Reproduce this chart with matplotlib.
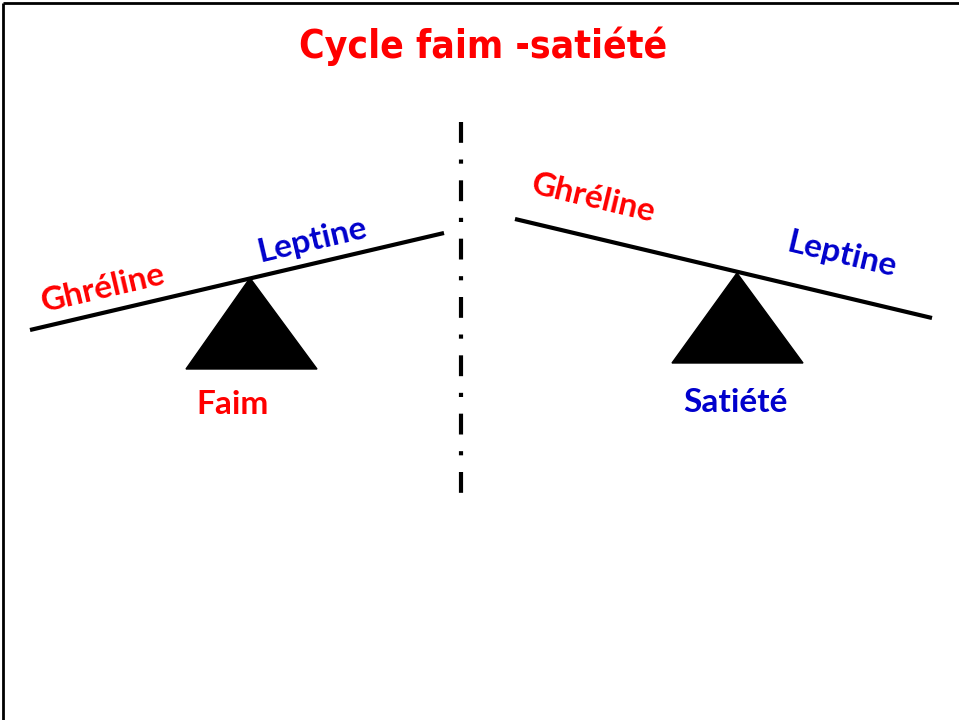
import matplotlib.pyplot as plt
import matplotlib.patches as mpatches

plt.rcParams['lines.scale_dashes'] = False

title = 'Cycle faim -satiété'
hormones = ['Ghréline', 'Leptine']
hormone_colors = ['#ff0000', '#0000cc']
states = ['Faim', 'Satiété']
state_colors = ['#ff0000', '#0000cc']

fig = plt.figure(figsize=(9.59, 7.2), dpi=100)
ax = fig.add_axes([0, 0, 1, 1])
ax.set_xlim(0, 959)
ax.set_ylim(720, 0)
ax.axis('off')

# cadre (haut + gauche seulement visibles)
ax.plot([3, 959], [3, 3], color='black', lw=2, solid_capstyle='butt')
ax.plot([3, 3], [3, 720], color='black', lw=2, solid_capstyle='butt')

ax.text(483, 46, title, color='#ff0000', fontsize=28, fontweight='bold',
        fontstretch='condensed', family=['DejaVu Sans'], ha='center', va='center')

# séparation
ax.plot([461, 461], [122, 494], color='black', lw=3,
        linestyle=(0, (15, 12, 3, 12)), dash_capstyle='butt')

lab = dict(fontsize=24, fontweight='bold', family=['Lato', 'DejaVu Sans'],
           ha='center', va='center', rotation_mode='anchor')

# balance gauche : faim
ax.plot([30, 444], [330, 233], color='black', lw=3, solid_capstyle='butt')
ax.add_patch(mpatches.Polygon([[250, 278], [186, 369], [317, 369]], closed=True,
                              color='black'))
ax.text(103, 288, hormones[0], color=hormone_colors[0], rotation=13.2, **lab)
ax.text(312, 240, hormones[1], color=hormone_colors[1], rotation=13.2, **lab)
ax.text(233, 405, states[0], color=state_colors[0],
        fontsize=24, fontweight='bold', family=['Lato', 'DejaVu Sans'],
        ha='center', va='center')

# balance droite : satiété
ax.plot([515, 932], [219, 318], color='black', lw=3, solid_capstyle='butt')
ax.add_patch(mpatches.Polygon([[737, 273], [672, 363], [803, 363]], closed=True,
                              color='black'))
ax.text(593, 198, hormones[0], color=hormone_colors[0], rotation=-13.4, **lab)
ax.text(842, 255, hormones[1], color=hormone_colors[1], rotation=-13.4, **lab)
ax.text(735, 403, states[1], color=state_colors[1],
        fontsize=24, fontweight='bold', family=['Lato', 'DejaVu Sans'],
        ha='center', va='center')

fig.savefig('out.png', dpi=100)
